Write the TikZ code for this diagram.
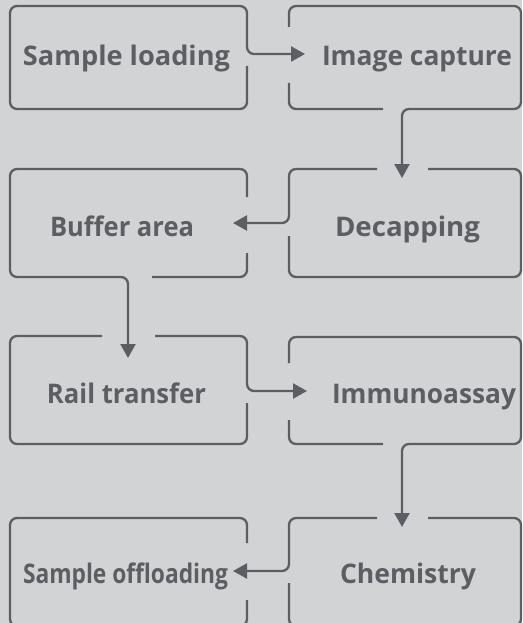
\documentclass[tikz,border=0pt]{standalone}
\usepackage{fontspec}
\newfontfamily\lab{Open Sans}
\usetikzlibrary{arrows.meta}
\definecolor{bg}{HTML}{D1D3D5}
\definecolor{ln}{HTML}{5B5F64}
\newcommand\fitw[2]{\resizebox{#1pt}{\height}{#2}}
\begin{document}
\begin{tikzpicture}[x=1pt,y=-1pt,
  outline/.style={draw=ln, line width=2.3pt, rounded corners=7pt},
  conn/.style={-{Triangle[length=14pt,width=15pt]}},
  lbl/.style={anchor=base, inner sep=0pt, text=ln, font=\lab\bfseries\fontsize{27}{32}\selectfont}]
\fill[bg] (0,0) rectangle (522,623);
\useasboundingbox (0,0) rectangle (522,623);
% labels
\node[lbl] (t1) at (126.5,66) {\fitw{207}{Sample loading}};
\node[lbl] (t2) at (417,66) {\fitw{190}{Image capture}};
\node[lbl] (t3) at (407.5,236) {\fitw{145}{Decapping}};
\node[lbl] (t4) at (122,236) {\fitw{144}{Buffer area}};
\node[lbl] (t5) at (126.5,403) {\fitw{159}{Rail transfer}};
\node[lbl] (t6) at (424,403) {\fitw{184}{Immunoassay}};
\node[lbl] (t7) at (408,583) {\fitw{136}{Chemistry}};
\node[lbl] (t8) at (125.5,583) {\fitw{205}{Sample offloading}};
% Sample loading -> Image capture
\draw[outline,conn] (247,66) -- (247,109) -- (10,109) -- (10,6) -- (247,6) -- (247,54) -- (305,54);
% Image capture -> Decapping
\draw[outline,conn] (289,27) -- (289,6) -- (521,6) -- (521,109) -- (402,109) -- (402,178);
\draw[outline] (289,83) -- (289,109) -- (383,109);
% Decapping -> Buffer area
\draw[outline,conn] (377,169) -- (289,169) -- (289,223) -- (233,223);
\draw[outline] (428,169) -- (521,169) -- (521,277) -- (289,277) -- (289,236);
% Buffer area -> Rail transfer
\draw[outline,conn] (247,197) -- (247,169) -- (10,169) -- (10,277) -- (128,277) -- (128,358);
\draw[outline] (152,277) -- (247,277) -- (247,253);
% Rail transfer -> Immunoassay
\draw[outline,conn] (155,336) -- (247,336) -- (247,391) -- (307,391);
\draw[outline] (102,336) -- (10,336) -- (10,444) -- (247,444) -- (247,403);
% Immunoassay -> Chemistry
\draw[outline,conn] (289,363) -- (289,337) -- (521,337) -- (521,444) -- (402,444) -- (402,527);
\draw[outline] (289,420) -- (289,444) -- (383,444);
% Chemistry -> Sample offloading
\draw[outline,conn] (377,518) -- (289,518) -- (289,571) -- (233,571);
\draw[outline] (428,518) -- (521,518) -- (521,626) -- (289,626) -- (289,583);
% Sample offloading
\draw[outline] (247,543) -- (247,518) -- (10,518) -- (10,626) -- (247,626) -- (247,600);
\end{tikzpicture}
\end{document}
